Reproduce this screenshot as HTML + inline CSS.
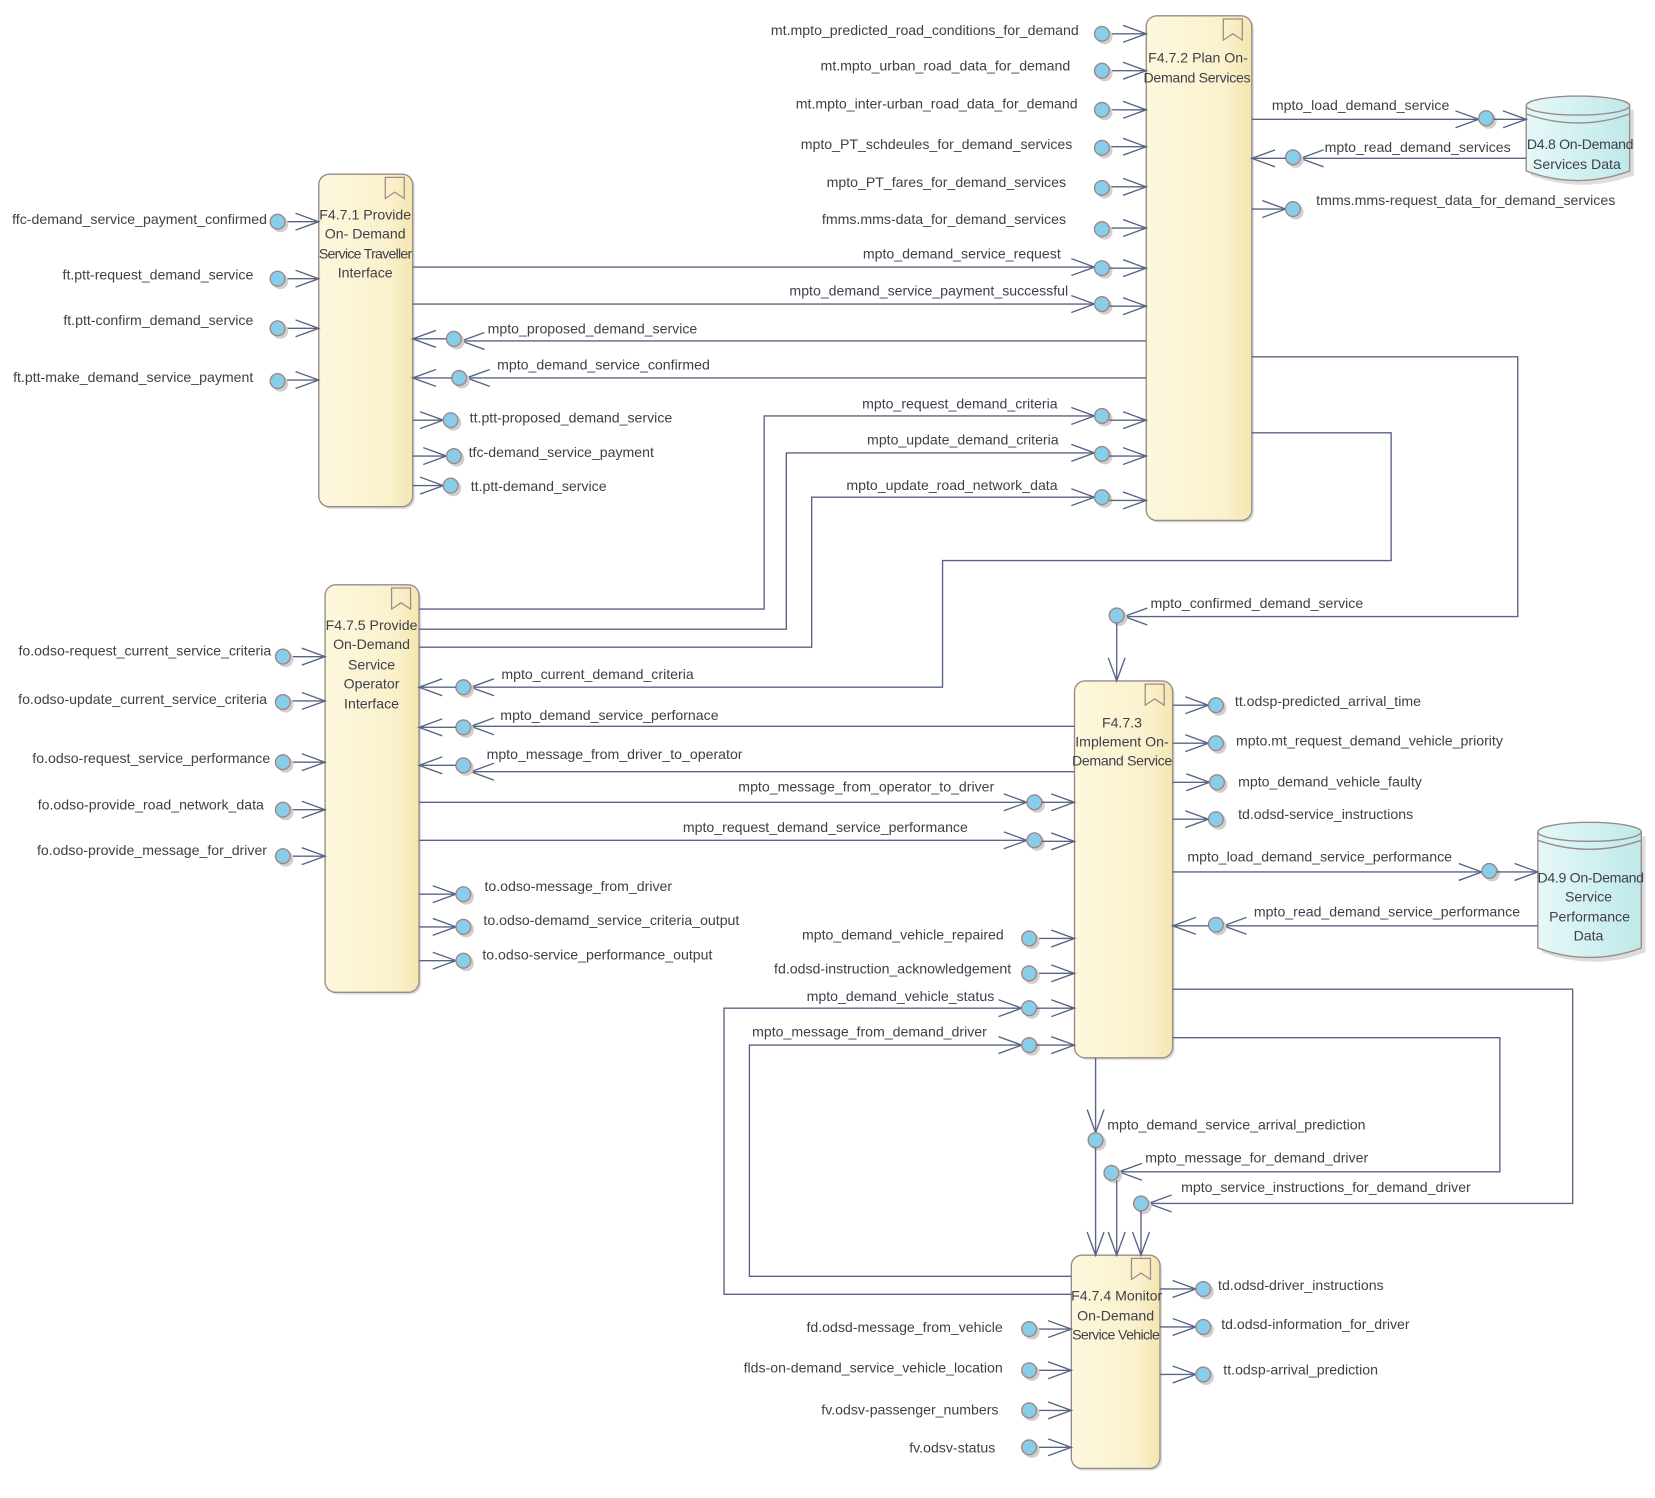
<!DOCTYPE html>
<html><head><meta charset="utf-8"><style>
html,body{margin:0;padding:0;background:#fff;}
svg{display:block;}
text{font-family:"Liberation Sans",sans-serif;font-size:13.4px;fill:#3f3f4a;}
.c{stroke:#5a6585;stroke-width:1.3;fill:none;}
.m{text-anchor:middle;}
.e{text-anchor:end;}
</style></head><body>
<svg width="1655" height="1498" viewBox="0 0 1568 1419" preserveAspectRatio="none" xmlns="http://www.w3.org/2000/svg">
<defs>
<marker id="a" markerUnits="userSpaceOnUse" markerWidth="26" markerHeight="20" refX="23" refY="9" orient="auto"><path d="M1,1 L23,9 L1,17" fill="none" stroke="#5a6585" stroke-width="1.3"/></marker>
<g id="p"><circle cx="2.5" cy="2.5" r="7.5" fill="#cfcfcf"/><circle cx="0" cy="0" r="7" fill="#87ceeb" stroke="#a08585" stroke-width="1.3"/></g>
<linearGradient id="g" x1="0" x2="1" y1="0" y2="0"><stop offset="0" stop-color="#fdf8dd"/><stop offset="0.75" stop-color="#faf1cc"/><stop offset="1" stop-color="#f3e6b0"/></linearGradient>
<linearGradient id="d" x1="0" x2="1"><stop offset="0" stop-color="#e6f8f8"/><stop offset="1" stop-color="#bfe9ea"/></linearGradient>
<g id="bm"><path d="M0,0 H18 V20 L9,14 L0,20 Z" fill="none" stroke="#a08a8a" stroke-width="1.2"/></g>
</defs>

<!-- boxes -->
<rect x="304" y="167" width="89" height="315" rx="10" fill="#ddd"/>
<rect x="302" y="165" width="89" height="315" rx="10" fill="url(#g)" stroke="#9a8a8a" stroke-width="1.3"/>
<rect x="1088" y="17" width="100" height="478" rx="10" fill="#ddd"/>
<rect x="1086" y="15" width="100" height="478" rx="10" fill="url(#g)" stroke="#9a8a8a" stroke-width="1.3"/>
<rect x="310" y="556" width="89" height="386" rx="10" fill="#ddd"/>
<rect x="308" y="554" width="89" height="386" rx="10" fill="url(#g)" stroke="#9a8a8a" stroke-width="1.3"/>
<rect x="1020" y="647" width="93" height="357" rx="10" fill="#ddd"/>
<rect x="1018" y="645" width="93" height="357" rx="10" fill="url(#g)" stroke="#9a8a8a" stroke-width="1.3"/>
<rect x="1017" y="1191" width="84" height="202" rx="10" fill="#ddd"/>
<rect x="1015" y="1189" width="84" height="202" rx="10" fill="url(#g)" stroke="#9a8a8a" stroke-width="1.3"/>
<use href="#bm" x="365" y="168"/>
<use href="#bm" x="1159" y="18"/>
<use href="#bm" x="371" y="557"/>
<use href="#bm" x="1085" y="648"/>
<use href="#bm" x="1072" y="1192"/>

<!-- databases -->
<path d="M1448,102 V164 Q1497,182 1546,164 V102" fill="#ddd" transform="translate(2,2)"/>
<path d="M1446,100 V162 Q1495,180 1544,162 V100" fill="url(#d)" stroke="#9a8a8a" stroke-width="1.3"/>
<ellipse cx="1495" cy="100" rx="49" ry="9" fill="url(#d)" stroke="#9a8a8a" stroke-width="1.3"/>
<path d="M1446,108 Q1495,125 1544,108" fill="none" stroke="#9a8a8a" stroke-width="1.3"/>
<path d="M1459,790 V900 Q1508,918 1557,900 V790" fill="#ddd" transform="translate(2,2)"/>
<path d="M1457,788 V898 Q1506,916 1555,898 V788" fill="url(#d)" stroke="#9a8a8a" stroke-width="1.3"/>
<ellipse cx="1506" cy="788" rx="49" ry="9" fill="url(#d)" stroke="#9a8a8a" stroke-width="1.3"/>
<path d="M1457,796 Q1506,813 1555,796" fill="none" stroke="#9a8a8a" stroke-width="1.3"/>

<!-- box labels -->
<text class="m" x="346" y="208">F4.7.1 Provide</text>
<text class="m" x="346" y="226">On- Demand</text>
<text class="m" x="346" y="245" style="letter-spacing:-0.7px">Service Traveller</text>
<text class="m" x="346" y="263">Interface</text>
<text class="m" x="1135" y="59">F4.7.2 Plan On-</text>
<text class="m" x="1134" y="78" style="letter-spacing:-0.3px">Demand Services</text>
<text class="m" x="352" y="597">F4.7.5 Provide</text>
<text class="m" x="352" y="615">On-Demand</text>
<text class="m" x="352" y="634">Service</text>
<text class="m" x="352" y="652">Operator</text>
<text class="m" x="352" y="671">Interface</text>
<text class="m" x="1063" y="689">F4.7.3</text>
<text class="m" x="1063" y="707">Implement On-</text>
<text class="m" x="1063" y="725" style="letter-spacing:-0.3px">Demand Service</text>
<text class="m" x="1058" y="1232">F4.7.4 Monitor</text>
<text class="m" x="1057" y="1251">On-Demand</text>
<text class="m" x="1057" y="1269" style="letter-spacing:-0.6px">Service Vehicle</text>
<text class="m" x="1497" y="141" style="letter-spacing:-0.3px">D4.8 On-Demand</text>
<text class="m" x="1494" y="160">Services Data</text>
<text class="m" x="1507" y="836" style="letter-spacing:-0.3px">D4.9 On-Demand</text>
<text class="m" x="1505" y="854">Service</text>
<text class="m" x="1506" y="873">Performance</text>
<text class="m" x="1505" y="891">Data</text>

<!-- B1 left inputs -->
<path class="c" d="M270,210 H302" marker-end="url(#a)"/><use href="#p" x="263" y="210"/>
<text class="e" x="253" y="212">ffc-demand_service_payment_confirmed</text>
<path class="c" d="M270,264 H302" marker-end="url(#a)"/><use href="#p" x="263" y="264"/>
<text class="e" x="240" y="265">ft.ptt-request_demand_service</text>
<path class="c" d="M270,311 H302" marker-end="url(#a)"/><use href="#p" x="263" y="311"/>
<text class="e" x="240" y="308">ft.ptt-confirm_demand_service</text>
<path class="c" d="M270,360 H302" marker-end="url(#a)"/><use href="#p" x="263" y="361"/>
<text class="e" x="240" y="362">ft.ptt-make_demand_service_payment</text>

<!-- B1 right outputs -->
<path class="c" d="M391,398 H420" marker-end="url(#a)"/><use href="#p" x="427" y="398"/>
<text x="445" y="400">tt.ptt-proposed_demand_service</text>
<path class="c" d="M391,432 H423" marker-end="url(#a)"/><use href="#p" x="430" y="432"/>
<text x="444" y="433">tfc-demand_service_payment</text>
<path class="c" d="M391,460 H420" marker-end="url(#a)"/><use href="#p" x="427" y="460"/>
<text x="446" y="465">tt.ptt-demand_service</text>

<!-- B1 <-> B2 -->
<path class="c" d="M391,253 H1037" marker-end="url(#a)"/><use href="#p" x="1044" y="254"/>
<path class="c" d="M1051,254 H1086" marker-end="url(#a)"/>
<text class="e" x="1005" y="245">mpto_demand_service_request</text>
<path class="c" d="M391,288 H1037" marker-end="url(#a)"/><use href="#p" x="1044" y="288"/>
<path class="c" d="M1051,290 H1086" marker-end="url(#a)"/>
<text class="e" x="1012" y="280">mpto_demand_service_payment_successful</text>
<path class="c" d="M1086,323 H437" marker-end="url(#a)"/><use href="#p" x="430" y="321"/>
<path class="c" d="M423,321 H391" marker-end="url(#a)"/>
<text x="462" y="316">mpto_proposed_demand_service</text>
<path class="c" d="M1086,358 H442" marker-end="url(#a)"/><use href="#p" x="435" y="358"/>
<path class="c" d="M428,358 H391" marker-end="url(#a)"/>
<text x="471" y="350">mpto_demand_service_confirmed</text>

<!-- B2 left inputs -->
<path class="c" d="M1051,32 H1086" marker-end="url(#a)"/><use href="#p" x="1044" y="32"/>
<text class="e" x="1022" y="33">mt.mpto_predicted_road_conditions_for_demand</text>
<path class="c" d="M1051,67 H1086" marker-end="url(#a)"/><use href="#p" x="1044" y="67"/>
<text class="e" x="1014" y="67">mt.mpto_urban_road_data_for_demand</text>
<path class="c" d="M1051,104 H1086" marker-end="url(#a)"/><use href="#p" x="1044" y="104"/>
<text class="e" x="1021" y="103">mt.mpto_inter-urban_road_data_for_demand</text>
<path class="c" d="M1051,139 H1086" marker-end="url(#a)"/><use href="#p" x="1044" y="140"/>
<text class="e" x="1016" y="141">mpto_PT_schdeules_for_demand_services</text>
<path class="c" d="M1051,177 H1086" marker-end="url(#a)"/><use href="#p" x="1044" y="178"/>
<text class="e" x="1010" y="177">mpto_PT_fares_for_demand_services</text>
<path class="c" d="M1051,216 H1086" marker-end="url(#a)"/><use href="#p" x="1044" y="217"/>
<text class="e" x="1010" y="212">fmms.mms-data_for_demand_services</text>

<!-- B3 -> B2 -->
<path class="c" d="M397,577 H724 V394 H1037" marker-end="url(#a)"/><use href="#p" x="1044" y="394"/>
<path class="c" d="M1051,398 H1086" marker-end="url(#a)"/>
<text class="e" x="1002" y="387">mpto_request_demand_criteria</text>
<path class="c" d="M397,596 H745 V429 H1037" marker-end="url(#a)"/><use href="#p" x="1044" y="430"/>
<path class="c" d="M1051,432 H1086" marker-end="url(#a)"/>
<text class="e" x="1003" y="421">mpto_update_demand_criteria</text>
<path class="c" d="M397,613 H769 V471 H1037" marker-end="url(#a)"/><use href="#p" x="1044" y="471"/>
<path class="c" d="M1051,474 H1086" marker-end="url(#a)"/>
<text class="e" x="1002" y="464">mpto_update_road_network_data</text>

<!-- B2 right -->
<path class="c" d="M1186,113 H1401" marker-end="url(#a)"/><use href="#p" x="1408" y="112"/>
<path class="c" d="M1415,113 H1446" marker-end="url(#a)"/>
<text x="1205" y="104">mpto_load_demand_service</text>
<path class="c" d="M1446,150 H1232" marker-end="url(#a)"/><use href="#p" x="1225" y="149"/>
<path class="c" d="M1218,150 H1186" marker-end="url(#a)"/>
<text x="1255" y="144">mpto_read_demand_services</text>
<path class="c" d="M1186,198 H1218" marker-end="url(#a)"/><use href="#p" x="1225" y="198"/>
<text x="1247" y="194">tmms.mms-request_data_for_demand_services</text>
<path class="c" d="M1186,338 H1438 V584 H1065" marker-end="url(#a)"/><use href="#p" x="1058" y="583"/>
<path class="c" d="M1058,590 V645" marker-end="url(#a)"/>
<text x="1090" y="576">mpto_confirmed_demand_service</text>
<path class="c" d="M1186,410 H1318 V531 H893 V651 H446" marker-end="url(#a)"/><use href="#p" x="439" y="651"/>
<path class="c" d="M432,651 H397" marker-end="url(#a)"/>
<text x="475" y="643">mpto_current_demand_criteria</text>

<!-- B3 left inputs -->
<path class="c" d="M275,622 H308" marker-end="url(#a)"/><use href="#p" x="268" y="622"/>
<text class="e" x="257" y="621">fo.odso-request_current_service_criteria</text>
<path class="c" d="M275,664 H308" marker-end="url(#a)"/><use href="#p" x="268" y="665"/>
<text class="e" x="253" y="667">fo.odso-update_current_service_criteria</text>
<path class="c" d="M275,722 H308" marker-end="url(#a)"/><use href="#p" x="268" y="722"/>
<text class="e" x="256" y="723">fo.odso-request_service_performance</text>
<path class="c" d="M275,767 H308" marker-end="url(#a)"/><use href="#p" x="268" y="767"/>
<text class="e" x="250" y="767">fo.odso-provide_road_network_data</text>
<path class="c" d="M275,811 H308" marker-end="url(#a)"/><use href="#p" x="268" y="811"/>
<text class="e" x="253" y="810">fo.odso-provide_message_for_driver</text>

<!-- B3 right outputs -->
<path class="c" d="M397,847 H432" marker-end="url(#a)"/><use href="#p" x="439" y="847"/>
<text x="459" y="844">to.odso-message_from_driver</text>
<path class="c" d="M397,878 H432" marker-end="url(#a)"/><use href="#p" x="439" y="878"/>
<text x="458" y="876">to.odso-demamd_service_criteria_output</text>
<path class="c" d="M397,910 H432" marker-end="url(#a)"/><use href="#p" x="439" y="910"/>
<text x="457" y="909">to.odso-service_performance_output</text>

<!-- B4 <-> B3 -->
<path class="c" d="M1018,688 H446" marker-end="url(#a)"/><use href="#p" x="439" y="689"/>
<path class="c" d="M432,689 H397" marker-end="url(#a)"/>
<text x="474" y="682">mpto_demand_service_perfornace</text>
<path class="c" d="M1018,731 H446" marker-end="url(#a)"/><use href="#p" x="439" y="725"/>
<path class="c" d="M432,725 H397" marker-end="url(#a)"/>
<text x="461" y="719">mpto_message_from_driver_to_operator</text>
<path class="c" d="M397,760 H973" marker-end="url(#a)"/><use href="#p" x="980" y="760"/>
<path class="c" d="M987,760 H1018" marker-end="url(#a)"/>
<text class="e" x="942" y="750">mpto_message_from_operator_to_driver</text>
<path class="c" d="M397,796 H973" marker-end="url(#a)"/><use href="#p" x="980" y="796"/>
<path class="c" d="M987,797 H1018" marker-end="url(#a)"/>
<text class="e" x="917" y="788">mpto_request_demand_service_performance</text>

<!-- B4 right -->
<path class="c" d="M1111,668 H1145" marker-end="url(#a)"/><use href="#p" x="1152" y="668"/>
<text x="1170" y="669">tt.odsp-predicted_arrival_time</text>
<path class="c" d="M1111,704 H1145" marker-end="url(#a)"/><use href="#p" x="1152" y="704"/>
<text x="1171" y="706">mpto.mt_request_demand_vehicle_priority</text>
<path class="c" d="M1111,741 H1146" marker-end="url(#a)"/><use href="#p" x="1153" y="741"/>
<text x="1173" y="745">mpto_demand_vehicle_faulty</text>
<path class="c" d="M1111,776 H1145" marker-end="url(#a)"/><use href="#p" x="1152" y="776"/>
<text x="1173" y="776">td.odsd-service_instructions</text>
<path class="c" d="M1111,826 H1404" marker-end="url(#a)"/><use href="#p" x="1411" y="825"/>
<path class="c" d="M1418,826 H1457" marker-end="url(#a)"/>
<text x="1125" y="816">mpto_load_demand_service_performance</text>
<path class="c" d="M1457,877 H1159" marker-end="url(#a)"/><use href="#p" x="1152" y="876"/>
<path class="c" d="M1145,877 H1111" marker-end="url(#a)"/>
<text x="1188" y="868">mpto_read_demand_service_performance</text>

<!-- B4 left inputs -->
<path class="c" d="M982,889 H1018" marker-end="url(#a)"/><use href="#p" x="975" y="889"/>
<text class="e" x="951" y="890">mpto_demand_vehicle_repaired</text>
<path class="c" d="M982,922 H1018" marker-end="url(#a)"/><use href="#p" x="975" y="922"/>
<text class="e" x="958" y="922">fd.odsd-instruction_acknowledgement</text>
<path class="c" d="M1015,1226 H686 V955 H968" marker-end="url(#a)"/><use href="#p" x="975" y="955"/>
<path class="c" d="M982,955 H1018" marker-end="url(#a)"/>
<text class="e" x="942" y="948">mpto_demand_vehicle_status</text>
<path class="c" d="M1015,1209 H710 V990 H968" marker-end="url(#a)"/><use href="#p" x="975" y="990"/>
<path class="c" d="M982,990 H1018" marker-end="url(#a)"/>
<text class="e" x="935" y="982">mpto_message_from_demand_driver</text>

<!-- B4 -> B5 -->
<path class="c" d="M1038,1002 V1073" marker-end="url(#a)"/><use href="#p" x="1038" y="1080"/>
<path class="c" d="M1038,1087 V1189" marker-end="url(#a)"/>
<text x="1049" y="1070">mpto_demand_service_arrival_prediction</text>
<path class="c" d="M1111,983 H1421 V1110 H1060" marker-end="url(#a)"/><use href="#p" x="1053" y="1111"/>
<path class="c" d="M1058,1118 V1189" marker-end="url(#a)"/>
<text x="1085" y="1101">mpto_message_for_demand_driver</text>
<path class="c" d="M1111,937 H1490 V1140 H1088" marker-end="url(#a)"/><use href="#p" x="1081" y="1140"/>
<path class="c" d="M1081,1147 V1189" marker-end="url(#a)"/>
<text x="1119" y="1129">mpto_service_instructions_for_demand_driver</text>

<!-- B5 left inputs -->
<path class="c" d="M982,1259 H1015" marker-end="url(#a)"/><use href="#p" x="975" y="1259"/>
<text class="e" x="950" y="1262">fd.odsd-message_from_vehicle</text>
<path class="c" d="M982,1298 H1015" marker-end="url(#a)"/><use href="#p" x="975" y="1298"/>
<text class="e" x="950" y="1300">flds-on-demand_service_vehicle_location</text>
<path class="c" d="M982,1336 H1015" marker-end="url(#a)"/><use href="#p" x="975" y="1336"/>
<text class="e" x="946" y="1340">fv.odsv-passenger_numbers</text>
<path class="c" d="M982,1371 H1015" marker-end="url(#a)"/><use href="#p" x="975" y="1371"/>
<text class="e" x="943" y="1376">fv.odsv-status</text>

<!-- B5 right outputs -->
<path class="c" d="M1099,1221 H1133" marker-end="url(#a)"/><use href="#p" x="1140" y="1221"/>
<text x="1154" y="1222">td.odsd-driver_instructions</text>
<path class="c" d="M1099,1257 H1133" marker-end="url(#a)"/><use href="#p" x="1140" y="1257"/>
<text x="1157" y="1259">td.odsd-information_for_driver</text>
<path class="c" d="M1099,1302 H1133" marker-end="url(#a)"/><use href="#p" x="1140" y="1302"/>
<text x="1159" y="1302">tt.odsp-arrival_prediction</text>
</svg>
</body></html>
